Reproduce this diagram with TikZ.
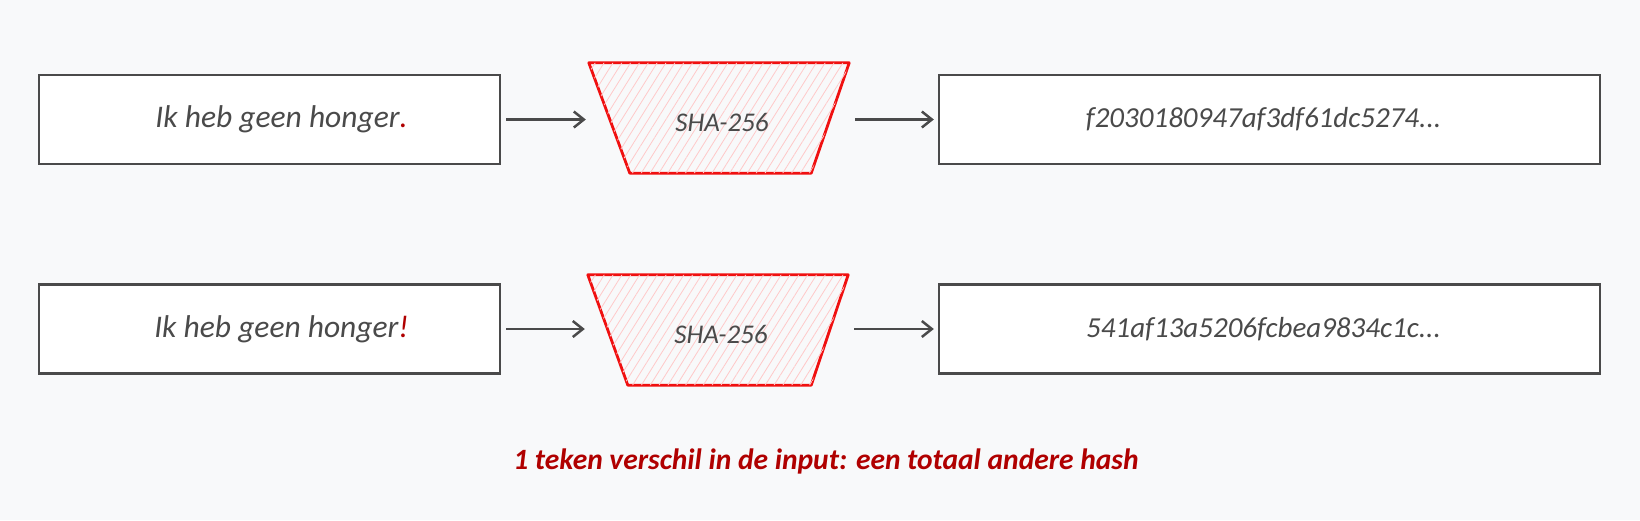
\documentclass[tikz,border=0pt]{standalone}
\usepackage{fontspec}
\setmainfont{Carlito}
\usetikzlibrary{arrows.meta,patterns.meta}
\definecolor{bg}{HTML}{F8F9FA}
\definecolor{ink}{HTML}{4A4A4A}
\definecolor{hred}{HTML}{F01010}
\definecolor{hfill}{HTML}{FFC9C9}
\definecolor{dred}{HTML}{B00000}
\tikzset{
  databox/.style={draw=ink, line width=2.3pt, fill=white, minimum width=461pt, minimum height=89pt, inner sep=0pt, font=\fontsize{31.5}{36}\selectfont\itshape, text=ink},
  hashbox/.style={draw=ink, line width=2.3pt, fill=white, minimum width=661pt, minimum height=89pt, inner sep=0pt, font=\fontsize{29}{34}\selectfont\itshape, text=ink},
  hashframe/.style={minimum width=260pt, minimum height=110pt, inner sep=0pt},
  trap/.style={draw=hred, line width=2.8pt, line join=round, fill=bg, postaction={pattern={Lines[angle=58,distance=7.5pt,line width=0.8pt]}, pattern color=hfill}},
  hashlbl/.style={font=\fontsize{27}{32}\selectfont\itshape, text=ink},
  arr/.style={draw=ink, line width=2.5pt, -{Straight Barb[length=10pt,width=16pt,line width=2.5pt]}},
  note/.style={font=\fontsize{29.5}{34}\selectfont\itshape\bfseries, text=dred}
}
\begin{document}
\begin{tikzpicture}[x=1pt,y=-1pt]
\fill[bg] (0,0) rectangle (1640,520);
\useasboundingbox (0,0) rectangle (1640,520);
% row 1
\node[databox] (in1) at (269.5,119.5) {\hspace*{24pt}Ik heb geen honger\textcolor{dred}{.}};
\node[hashframe] (h1) at (719,118) {};
\draw[trap] (h1.north west) -- (h1.north east) -- ([xshift=-38pt]h1.south east) -- ([xshift=41pt]h1.south west) -- cycle;
\node[hashlbl] (h1t) at ([xshift=3pt,yshift=-4pt]h1.center) {SHA-256};
\node[hashbox] (out1) at (1269.5,119.5) {f2030180947af3df61dc5274...\hspace*{12pt}};
\draw[arr] ([xshift=5pt]in1.east) -- ([xshift=-3pt]h1.west |- in1.east);
\draw[arr] ([xshift=6pt]h1.east |- out1.west) -- ([xshift=-4pt]out1.west);
% row 2
\node[databox] (in2) at (269.5,329) {\hspace*{24pt}Ik heb geen honger\textcolor{dred}{!}};
\node[hashframe] (h2) at (718,330) {};
\draw[trap] (h2.north west) -- (h2.north east) -- ([xshift=-37pt]h2.south east) -- ([xshift=40pt]h2.south west) -- cycle;
\node[hashlbl] (h2t) at ([xshift=3pt,yshift=-4pt]h2.center) {SHA-256};
\node[hashbox] (out2) at (1269.5,329) {541af13a5206fcbea9834c1c...\hspace*{12pt}};
\draw[arr] ([xshift=5pt]in2.east) -- ([xshift=-3pt]h2.west |- in2.east);
\draw[arr] ([xshift=6pt]h2.east |- out2.west) -- ([xshift=-4pt]out2.west);
% note
\node[note] (note) at (826,461) {1 teken verschil in de input: een totaal andere hash};
\end{tikzpicture}
\end{document}
